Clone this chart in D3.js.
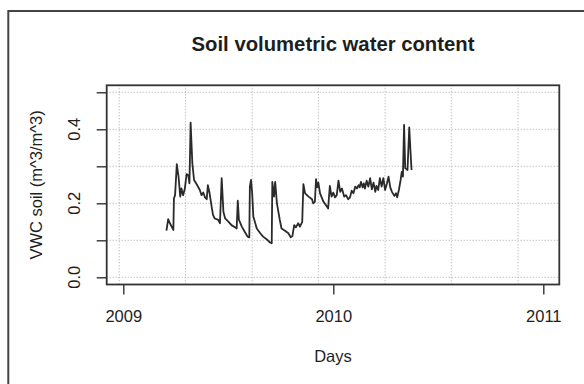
<!DOCTYPE html>
<html><head><meta charset="utf-8">
<script src="https://cdn.jsdelivr.net/npm/d3@7"></script>
<style>
html,body{margin:0;padding:0;background:#fff;}
svg{display:block;font-family:"Liberation Sans",Arial,Helvetica,sans-serif;}
</style>
</head><body>
<svg id="chart" width="584" height="384"></svg>
<script>
// ---- data ----
const dates = [
"2009-03-17","2009-03-20","2009-03-23","2009-03-29","2009-03-30","2009-04-01","2009-04-04","2009-04-07","2009-04-10","2009-04-12",
"2009-04-15","2009-04-18","2009-04-21","2009-04-24","2009-04-26","2009-04-28","2009-05-01","2009-05-04","2009-05-09","2009-05-14",
"2009-05-17","2009-05-20","2009-05-23","2009-05-26","2009-05-28","2009-05-31","2009-06-04","2009-06-06","2009-06-09","2009-06-15",
"2009-06-18","2009-06-21","2009-06-24","2009-06-27","2009-07-03","2009-07-08","2009-07-14","2009-07-17","2009-07-19","2009-07-21",
"2009-07-26","2009-07-31","2009-08-05","2009-08-08","2009-08-09","2009-08-11","2009-08-13","2009-08-15","2009-08-21","2009-08-27",
"2009-09-01","2009-09-07","2009-09-13","2009-09-16","2009-09-17","2009-09-20","2009-09-22","2009-09-25","2009-09-30","2009-10-03",
"2009-10-09","2009-10-15","2009-10-19","2009-10-22","2009-10-25","2009-10-28","2009-11-01","2009-11-04","2009-11-08","2009-11-10",
"2009-11-13","2009-11-19","2009-11-25","2009-11-27","2009-11-30","2009-12-02","2009-12-04","2009-12-06","2009-12-09","2009-12-15",
"2009-12-21","2009-12-23","2009-12-26","2009-12-29","2010-01-01","2010-01-04","2010-01-07","2010-01-10","2010-01-13","2010-01-16",
"2010-01-20","2010-01-23","2010-01-27","2010-01-30","2010-02-02","2010-02-05","2010-02-08","2010-02-11","2010-02-14","2010-02-16",
"2010-02-18","2010-02-21","2010-02-23","2010-02-25","2010-02-28","2010-03-03","2010-03-06","2010-03-09","2010-03-12","2010-03-15",
"2010-03-17","2010-03-20","2010-03-23","2010-03-26","2010-03-29","2010-04-01","2010-04-04","2010-04-07","2010-04-10","2010-04-13",
"2010-04-17","2010-04-20","2010-04-22","2010-04-25","2010-04-28","2010-04-30","2010-05-02","2010-05-04","2010-05-06","2010-05-10",
"2010-05-13","2010-05-16","2010-05-17"
];
const vwc = [
0.126,0.157,0.146,0.128,0.213,0.222,0.306,0.272,0.218,0.240,
0.222,0.240,0.279,0.276,0.254,0.418,0.308,0.263,0.250,0.236,
0.222,0.229,0.216,0.211,0.249,0.227,0.186,0.168,0.159,0.155,
0.146,0.268,0.177,0.159,0.150,0.141,0.135,0.132,0.207,0.155,
0.137,0.123,0.110,0.108,0.245,0.263,0.227,0.164,0.132,0.119,
0.110,0.103,0.094,0.092,0.258,0.218,0.258,0.200,0.155,0.132,
0.126,0.119,0.108,0.112,0.141,0.135,0.146,0.137,0.150,0.252,
0.227,0.218,0.211,0.200,0.204,0.265,0.243,0.256,0.227,0.204,
0.191,0.186,0.247,0.218,0.229,0.216,0.222,0.261,0.231,0.240,
0.218,0.222,0.211,0.216,0.234,0.227,0.245,0.240,0.249,0.243,
0.258,0.243,0.254,0.240,0.261,0.245,0.268,0.238,0.256,0.231,
0.247,0.236,0.268,0.245,0.268,0.236,0.252,0.272,0.243,0.231,
0.220,0.227,0.216,0.236,0.263,0.285,0.272,0.412,0.295,0.290,
0.405,0.317,0.290
];
const xTickDates = ["2009-01-01","2010-01-01","2011-01-01"];
const xTickLabels = ["2009","2010","2011"];
const yTicks = [0, 0.1, 0.2, 0.3, 0.4, 0.5];
const yTickLabels = ["0.0", "", "0.2", "", "0.4", ""];
const gridDates = ["2008-12-25","2009-04-19","2009-08-13","2009-12-06","2010-04-01","2010-07-25","2010-11-18"];
const titleText = "Soil volumetric water content";
const xTitleText = "Days";
const yTitleText = "VWC soil (m^3/m^3)";

// ---- layout ----
const box = {left: 106.7, right: 559.3, top: 85.3, bottom: 284.5};
const parse = d3.utcParse("%Y-%m-%d");
const data = dates.map((d, i) => ({date: parse(d), v: vwc[i]}));

const x = d3.scaleUtc()
  .domain([parse(xTickDates[0]), parse(xTickDates[2])])
  .range([123.3, 543.3]);
const y = d3.scaleLinear().domain([0, 0.5]).range([277.3, 92.3]);

const svg = d3.select("#chart");
const ink = "#1e1e1e";

// outer frame (clipped by the page)
svg.append("rect").attr("x", 8.3).attr("y", 11).attr("width", 640).attr("height", 420)
  .attr("fill", "none").attr("stroke", "#444").attr("stroke-width", 2);

// grid
const grid = svg.append("g").attr("stroke", "#aaaaaa").attr("stroke-width", 1)
  .attr("stroke-dasharray", "1,2").attr("fill", "none");
grid.selectAll("line.v").data(gridDates).join("line").attr("class", "v")
  .attr("x1", d => x(parse(d))).attr("x2", d => x(parse(d)))
  .attr("y1", box.top).attr("y2", box.bottom);
grid.selectAll("line.h").data(yTicks).join("line").attr("class", "h")
  .attr("x1", box.left).attr("x2", box.right)
  .attr("y1", d => y(d)).attr("y2", d => y(d));

// line
svg.append("path").datum(data)
  .attr("fill", "none").attr("stroke", "#2a2a2a").attr("stroke-width", 1.8)
  .attr("stroke-linejoin", "round")
  .attr("d", d3.line().x(d => x(d.date)).y(d => y(d.v)));

// box
svg.append("rect").attr("x", box.left).attr("y", box.top)
  .attr("width", box.right - box.left).attr("height", box.bottom - box.top)
  .attr("fill", "none").attr("stroke", "#333").attr("stroke-width", 1.8);

// x axis
const xAxis = d3.axisBottom(x)
  .tickValues(xTickDates.map(parse))
  .tickFormat((d, i) => xTickLabels[i])
  .tickSize(10).tickPadding(16);
const gx = svg.append("g").attr("transform", `translate(0,${box.bottom})`).call(xAxis);
gx.select(".domain").remove();
gx.selectAll(".tick line").attr("stroke", "#333").attr("stroke-width", 1.4);
gx.selectAll(".tick text").attr("fill", ink).style("font-size", "16.5px");

// y axis
const yAxis = d3.axisLeft(y).tickValues(yTicks).tickFormat(() => "").tickSize(10);
const gy = svg.append("g").attr("transform", `translate(${box.left},0)`).call(yAxis);
gy.select(".domain").remove();
gy.selectAll(".tick line").attr("stroke", "#333").attr("stroke-width", 1.4);
gy.selectAll(".tick text").remove();
svg.append("g").selectAll("text").data(yTicks).join("text")
  .attr("transform", d => `translate(80,${y(d)}) rotate(-90)`)
  .attr("text-anchor", "middle").attr("fill", ink).style("font-size", "16.5px")
  .text((d, i) => yTickLabels[i]);

// titles
svg.append("text").attr("x", 333).attr("y", 50.7).attr("text-anchor", "middle")
  .attr("fill", ink).style("font-size", "20.3px").style("font-weight", "bold")
  .text(titleText);
svg.append("text").attr("x", 333).attr("y", 362).attr("text-anchor", "middle")
  .attr("fill", ink).style("font-size", "16.5px").text(xTitleText);
svg.append("text").attr("transform", `translate(41.5,${(box.top + box.bottom) / 2}) rotate(-90)`)
  .attr("text-anchor", "middle").attr("fill", ink).style("font-size", "16.5px")
  .text(yTitleText);
</script>
</body></html>
